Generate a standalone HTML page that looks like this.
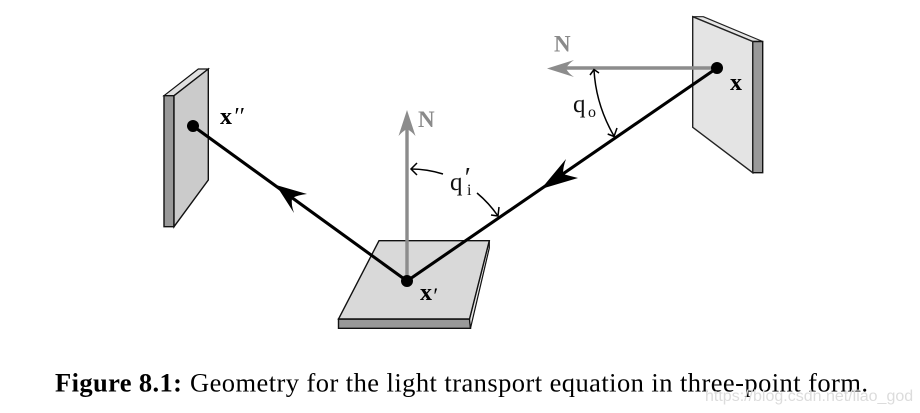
<!DOCTYPE html>
<html>
<head>
<meta charset="utf-8">
<style>
html,body{margin:0;padding:0;background:#fff;}
body{width:920px;height:413px;overflow:hidden;position:relative;}
svg{position:absolute;left:0;top:0;}
text{font-family:"Liberation Serif",serif;}
</style>
</head>
<body>
<svg width="920" height="413" viewBox="0 0 920 413" xmlns="http://www.w3.org/2000/svg">
  <!-- right panel -->
  <polygon points="692.7,16.7 703.3,16.7 762.7,41.5 752.7,41.5" fill="#e6e6e6" stroke="#222" stroke-width="1.2" stroke-linejoin="round"/>
  <polygon points="752.7,41.5 762.7,41.5 762.7,172.7 752.7,172.7" fill="#999" stroke="#111" stroke-width="1.4"/>
  <polygon points="692.7,16.7 752.7,41.5 752.7,172.7 692.7,127.3" fill="#e4e4e4" stroke="#222" stroke-width="1.4"/>
  <!-- left panel -->
  <polygon points="164,95.7 198.3,69 208.3,69 174,95.7" fill="#e0e0e0" stroke="#111" stroke-width="1.2"/>
  <polygon points="164,95.7 174,95.7 174,226.7 164,226.7" fill="#999" stroke="#111" stroke-width="1.4"/>
  <polygon points="174,95.7 208.3,69 208.3,180 174,226.7" fill="#cbcbcb" stroke="#111" stroke-width="1.4"/>
  <!-- bottom panel -->
  <polygon points="338.5,319 469.5,319 470.5,328.3 338.5,328.3" fill="#999" stroke="#111" stroke-width="1.4"/>
  <polygon points="469.5,319 489.3,240.7 489.3,248 470.5,328.3" fill="#e6e6e6" stroke="#111" stroke-width="1.2"/>
  <polygon points="379,240.7 489.3,240.7 469.5,319 338.5,319" fill="#d9d9d9" stroke="#111" stroke-width="1.4"/>
  <!-- gray normals -->
  <line x1="717" y1="68" x2="560" y2="68" stroke="#8c8c8c" stroke-width="3.4"/>
  <path d="M547,68.5 L574,60 Q568,64 566,68.5 Q568,73 574,77 Z" fill="#8c8c8c"/>
  <line x1="407" y1="281" x2="407" y2="124" stroke="#8c8c8c" stroke-width="3.4"/>
  <path d="M407,110 L415.5,136 Q411,131 407,129 Q403,131 398.5,136 Z" fill="#8c8c8c"/>
  <!-- black rays -->
  <polyline points="193,126 407,281 717,68" fill="none" stroke="#000" stroke-width="3.1"/>
  <path d="M276,185 L307,194 Q298,195 292,198 Q291,205 294,213 Z" fill="#000"/>
  <path d="M541,189 L566,159 Q563,167 563,174 Q570,176 578,178 Z" fill="#000"/>
  <circle cx="717" cy="68" r="6" fill="#000"/>
  <circle cx="193" cy="126" r="6" fill="#000"/>
  <circle cx="407" cy="281" r="6" fill="#000"/>
  <!-- angle arcs -->
  <path d="M594,70 Q596,105 614,136" fill="none" stroke="#000" stroke-width="1.5"/>
  <path d="M590,75 L594,69.5 L599,73" fill="none" stroke="#000" stroke-width="1.5"/>
  <path d="M607.7,134 L614,136.5 L617,128" fill="none" stroke="#000" stroke-width="1.5"/>
  <path d="M443,174 Q427,169 411,169" fill="none" stroke="#000" stroke-width="1.5"/>
  <path d="M417,163 L411,169 L417,175" fill="none" stroke="#000" stroke-width="1.5"/>
  <path d="M477,193 Q489,203 498,216" fill="none" stroke="#000" stroke-width="1.5"/>
  <path d="M499,207 L498,216 L491,215" fill="none" stroke="#000" stroke-width="1.5"/>
  <!-- labels -->
  <text x="554" y="51.5" font-size="23" font-weight="bold" fill="#8a8a8a">N</text>
  <text x="418" y="127" font-size="23" font-weight="bold" fill="#8a8a8a">N</text>
  <text x="730" y="90" font-size="24" font-weight="bold" fill="#000">x</text>
  <text x="220" y="124" font-size="24" font-weight="bold" fill="#000">x</text>
  <text x="233" y="124" font-size="24" font-style="italic" fill="#000">′′</text>
  <text x="420" y="300" font-size="24" font-weight="bold" fill="#000">x</text>
  <text x="432" y="303" font-size="22" font-style="italic" fill="#000">′</text>
  <text x="573" y="112" font-size="25" fill="#111">q</text>
  <text x="588" y="117" font-size="16" fill="#111">o</text>
  <text x="450" y="190" font-size="25" fill="#111">q</text>
  <text x="467" y="195" font-size="16" fill="#111">i</text>
  <text x="463" y="187" font-size="28" font-style="italic" fill="#111">′</text>
  <!-- caption -->
  <text x="55" y="391.5" font-size="26.5" font-weight="bold" fill="#000" textLength="127" lengthAdjust="spacing">Figure 8.1:</text>
  <text x="190" y="391.5" font-size="26.5" fill="#000" textLength="678" lengthAdjust="spacing">Geometry for the light transport equation in three-point form.</text>
  <!-- watermark -->
  <text x="705" y="401" font-size="16" fill="#dcdcdc" style="font-family:'Liberation Sans',sans-serif">https://blog.csdn.net/liao_god</text>
</svg>
</body>
</html>
